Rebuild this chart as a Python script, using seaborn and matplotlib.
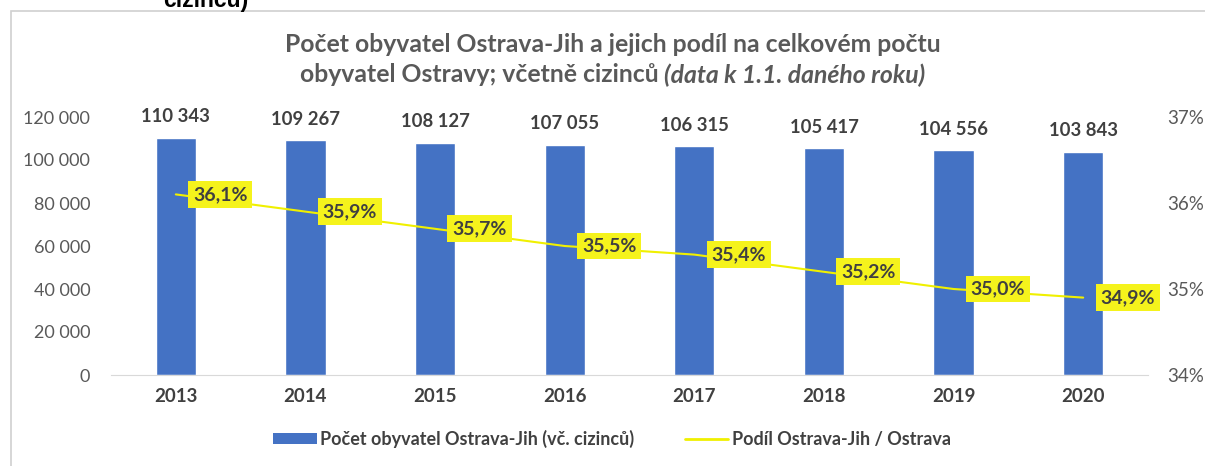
import numpy as np
import pandas as pd
import matplotlib.pyplot as plt
import seaborn as sns
from matplotlib.patches import Rectangle, Patch
from matplotlib.lines import Line2D

roky = ["2013", "2014", "2015", "2016", "2017", "2018", "2019", "2020"]
obyvatele = [110343, 109267, 108127, 107055, 106315, 105417, 104556, 103843]
podil = [36.1, 35.9, 35.7, 35.5, 35.4, 35.2, 35.0, 34.9]
yticks_left = [0, 20000, 40000, 60000, 80000, 100000, 120000]
yticks_right = [34, 35, 36, 37]

modra = "#4472C4"
zluta = "#f5f31c"
seda = "#595959"
tmava = "#404040"

sns.set_style("white")
plt.rcParams["font.family"] = ["Lato", "DejaVu Sans"]

df = pd.DataFrame({"rok": roky, "obyvatele": obyvatele, "podil": podil})

fig = plt.figure(figsize=(12.05, 4.66), dpi=100)
W, H = 1205, 466
ax = fig.add_axes([111 / W, 1 - 375 / H, (1148 - 111) / W, (375 - 117) / H])

# ramecek grafu
fig.patches.append(Rectangle((11 / W, -0.1), 1.2, 1 - 11 / H + 0.1, transform=fig.transFigure,
                             fill=False, edgecolor="#d0d0d0", linewidth=1.2))

sns.barplot(data=df, x="rok", y="obyvatele", color=modra, width=0.31, ax=ax, saturation=1)
ax.set_ylim(0, 120000)
ax.set_xlim(-0.5, 7.5)
ax.set_yticks(yticks_left)
ax.set_yticklabels([f"{v:,}".replace(",", " ") for v in yticks_left], color=seda, fontsize=13)
ax.set_xlabel("")
ax.set_ylabel("")
for lbl in ax.get_xticklabels():
    lbl.set_fontweight("bold")
    lbl.set_color(tmava)
    lbl.set_fontsize(13.5)
ax.tick_params(axis="x", length=0, pad=9)
ax.tick_params(axis="y", length=0, pad=15)
for s in ["top", "right", "left"]:
    ax.spines[s].set_visible(False)
ax.spines["bottom"].set_color("#d9d9d9")

for i, v in enumerate(obyvatele):
    ax.annotate(f"{v:,}".replace(",", " "), (i, v), xytext=(0, 15), textcoords="offset points",
                ha="center", va="center", fontsize=13.3, fontweight="bold", color=tmava)

ax2 = ax.twinx()
sns.lineplot(x=np.arange(len(podil)), y=podil, ax=ax2, color="#f0f000", linewidth=1.5)
ax2.set_ylim(34, 37)
ax2.set_yticks(yticks_right)
ax2.set_yticklabels([f"{v}%" for v in yticks_right], color=seda, fontsize=13.5)
ax2.tick_params(axis="y", length=0, pad=14)
for s in ["top", "right", "left", "bottom"]:
    ax2.spines[s].set_visible(False)

for i, p in enumerate(podil):
    ax2.annotate(f"{p:.1f}%".replace(".", ","), (i, p), xytext=(32, 0), textcoords="offset points",
                 ha="center", va="center", fontsize=14, fontweight="bold", color=tmava,
                 bbox=dict(boxstyle="square,pad=0.25", facecolor=zluta, edgecolor="none"))

# titulek
fig.text(0.5085, 1 - 45 / H, "Počet obyvatel Ostrava-Jih a jejich podíl na celkovém počtu",
         ha="center", va="center", fontsize=17.8, fontweight="bold", color=seda)
fig.canvas.draw()
r = fig.canvas.get_renderer()
t1 = fig.text(0, 1 - 75 / H, "obyvatel Ostravy; včetně cizinců ", ha="left", va="center",
              fontsize=17.8, fontweight="bold", color=seda)
t2 = fig.text(0, 1 - 75 / H, "(data k 1.1. daného roku)", ha="left", va="center",
              fontsize=17.8, fontweight="bold", fontstyle="italic", color=seda)
w1 = t1.get_window_extent(r).width
w2 = t2.get_window_extent(r).width
x0 = 0.5085 * W - (w1 + w2) / 2
t1.set_x(x0 / W)
t2.set_x((x0 + w1) / W)

# oriznuty text nad grafem
fig.text(163 / W, 1 - 7 / H, "cizinců)", ha="left", va="baseline", fontsize=16.5,
         fontweight="bold", color="black", family="Liberation Sans")

handles = [Patch(facecolor=modra, edgecolor="none"),
           Line2D([0], [0], color="#f0f000", linewidth=2)]
fig.legend(handles, ["Počet obyvatel Ostrava-Jih (vč. cizinců)", "Podíl Ostrava-Jih / Ostrava"],
           loc="center left", bbox_to_anchor=(257 / W, 1 - 439 / H), ncol=2, frameon=False,
           prop={"size": 13, "weight": "bold"}, labelcolor=tmava,
           handlelength=2.4, handleheight=0.55, handletextpad=0.2, columnspacing=2.8)

fig.savefig("out.png", dpi=100)
